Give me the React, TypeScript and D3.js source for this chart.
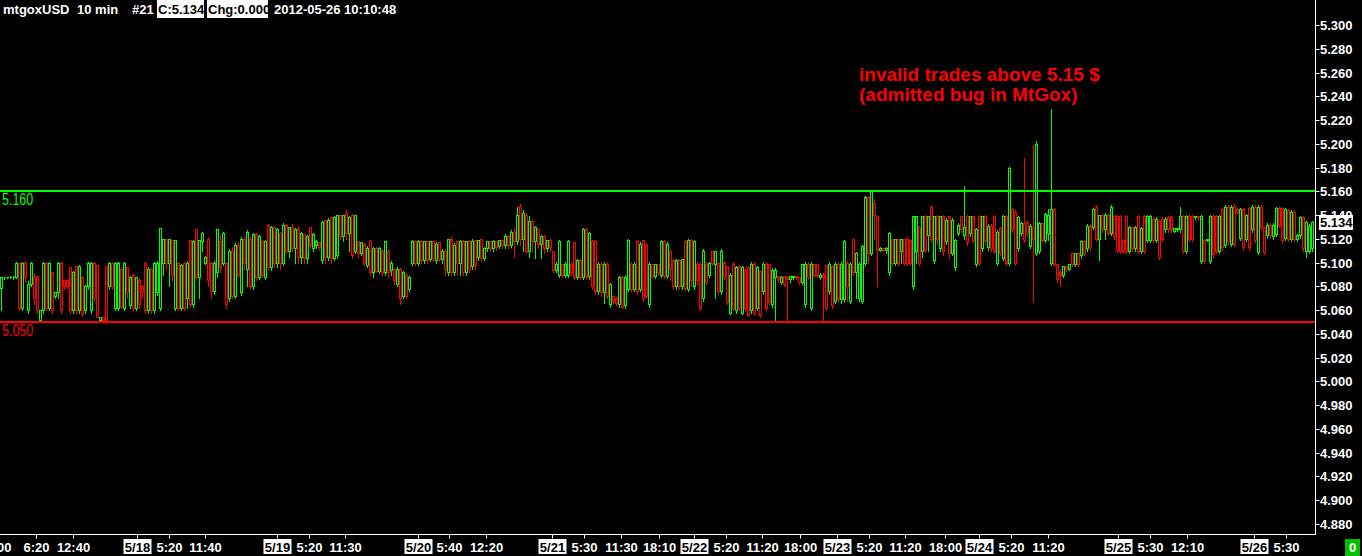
import React, { useEffect } from "react";
import * as d3 from "d3";

type Candle = [number, number, number, number]; // open, close, high, low in thousandths above 5.000

// 30-minute candles grouped by day (values = price offset above 5.000 in 1/1000 $)
const d0517: Candle[] = [
  [79,88,89,60],[88,88,89,86],[88,88,89,87],[88,88,90,87],[88,88,90,86],[88,100,101,87],[100,62,100,60],[62,100,101,60],
  [100,88,102,84],[60,82,85,58],[82,100,101,80],[88,70,92,65],[89,60,90,58],[52,60,61,52],[60,100,101,58],[100,62,100,60],
  [62,100,101,60],[92,60,93,58],[72,75,76,70],[75,100,101,70],[100,60,101,58],[85,80,86,78],[85,80,87,79],[96,60,97,58],
  [60,92,94,58],[97,60,98,58],[60,97,99,58],[88,57,90,55],[60,80,82,58],[80,100,101,78],[60,100,101,58],[100,70,101,68],
  [98,54,99,54],[52,54,55,52],[54,52,55,50],[97,52,98,50],[80,100,101,78],[100,80,101,78],[62,100,101,60],[62,100,101,60],
  [95,63,97,62],[62,100,101,60],[96,75,97,70],[64,88,90,62],[90,62,91,60],[62,88,89,60],
];
const d0518: Candle[] = [
  [85,65,88,62],[80,75,82,70],[100,60,101,58],[60,95,97,58],[95,60,96,58],[60,100,101,58],[75,100,102,73],[62,129,130,60],
  [100,120,121,90],[120,100,121,95],[100,120,121,80],[119,90,120,85],[62,119,120,60],[100,62,101,60],[62,98,100,60],[100,62,101,60],
  [70,100,102,62],[119,65,120,63],[65,118,120,63],[128,88,129,85],[88,119,120,70],[118,125,127,110],[100,105,106,99],[120,85,122,80],
  [100,76,101,70],[76,100,102,74],[92,128,129,88],[118,96,125,92],[100,125,127,98],[100,65,101,62],[70,110,112,68],[110,72,114,70],
  [72,115,117,70],[115,90,117,88],[75,120,122,73],[120,100,122,95],[95,126,128,80],[120,80,122,78],[80,124,126,78],[124,88,126,85],
  [88,122,124,86],[118,90,120,88],[88,118,120,86],[132,96,133,94],[96,130,132,94],[130,100,131,96],[100,128,130,96],
];
const d0519: Candle[] = [
  [125,100,127,95],[100,132,134,98],[132,110,133,108],[110,130,131,105],[130,112,133,110],[112,128,130,100],[128,105,132,100],[105,125,127,100],
  [124,104,125,100],[104,122,124,100],[130,115,131,112],[112,124,126,110],[115,118,120,112],[117,113,118,111],[102,134,136,100],[136,105,137,100],
  [105,136,138,102],[138,104,139,100],[104,138,140,102],[106,140,141,104],[140,122,141,120],[122,140,141,118],[142,125,145,120],[125,138,140,110],
  [140,106,142,104],[110,140,141,108],[118,108,119,105],[108,117,118,106],[116,100,117,98],[98,112,115,96],[118,92,120,90],[92,112,114,88],
  [112,93,114,92],[93,112,114,91],[110,92,112,90],[92,118,119,90],[110,92,112,88],[94,100,102,90],[95,85,96,82],[82,95,97,80],
  [95,70,96,65],[72,92,94,70],[90,72,92,70],[78,88,90,76],[100,118,120,98],[118,100,120,98],[100,118,120,98],
];
const d0520: Candle[] = [
  [118,102,120,100],[102,118,119,100],[118,102,119,100],[103,118,119,101],[118,104,119,101],[102,116,118,100],[117,103,118,101],[103,110,112,100],
  [110,95,112,90],[92,120,121,90],[120,92,122,90],[92,115,117,90],[118,100,119,90],[100,118,120,90],[118,92,120,90],[92,118,119,90],
  [118,95,120,92],[97,118,121,95],[119,98,120,95],[105,119,120,102],[120,104,121,102],[104,112,114,102],[112,118,119,110],[118,112,119,110],
  [112,118,120,110],[118,113,119,111],[114,119,120,112],[119,115,121,112],[115,122,125,112],[122,115,124,112],[115,126,128,113],[126,118,130,105],
  [118,140,148,116],[148,120,150,115],[120,142,145,110],[140,110,143,108],[110,135,140,105],[135,118,137,110],[118,130,132,104],[128,116,130,112],
  [116,122,124,104],[122,112,124,108],[112,119,120,110],[119,113,121,110],
];
const d0521: Candle[] = [
  [110,94,111,92],[94,99,101,92],[90,118,120,88],[99,90,100,88],[90,99,101,88],[90,118,120,88],[99,92,101,90],[117,88,118,86],
  [88,102,104,86],[102,88,104,86],[88,128,130,86],[128,89,130,86],[89,125,127,86],[118,80,120,78],[118,76,120,74],[76,99,101,74],
  [99,75,101,72],[75,99,101,66],[99,72,101,70],[65,82,84,63],[72,68,74,66],[70,66,72,64],[65,88,90,63],[88,63,90,62],
  [64,88,90,62],[78,119,121,76],[99,78,101,76],[78,99,101,76],[118,76,120,74],[78,116,118,76],[119,70,120,68],[115,72,117,70],
  [65,99,101,63],[99,89,100,87],[89,99,100,87],[99,92,100,90],[90,118,120,88],[118,89,120,87],[89,116,118,87],[110,95,112,85],
  [102,80,104,78],[80,102,104,78],[102,80,104,78],[80,103,104,78],[118,79,120,77],[78,119,121,76],[119,85,121,80],
];
const d0522: Candle[] = [
  [80,118,120,78],[99,85,101,82],[99,62,101,60],[70,110,112,68],[99,84,101,82],[90,100,101,88],[110,100,111,98],[99,110,111,70],
  [100,76,101,74],[76,110,112,74],[100,88,102,86],[97,67,98,65],[58,90,92,57],[99,62,101,60],[60,96,98,58],[97,62,99,60],
  [58,96,98,57],[94,62,96,60],[96,56,98,55],[60,99,101,58],[99,58,101,56],[62,96,98,60],[93,56,94,54],[76,99,101,74],
  [99,62,101,60],[99,67,100,65],[65,94,96,63],[88,94,96,50],[89,86,90,84],[84,88,90,82],[89,82,90,80],[88,86,90,52],
  [86,89,90,84],[88,89,90,86],[89,88,90,86],[88,84,89,82],[84,99,100,82],[65,99,101,63],[99,88,101,86],[62,99,101,60],
  [99,90,100,88],[99,90,100,88],[88,90,92,86],[90,88,92,51],[98,62,99,60],[76,99,101,74],[97,64,99,62],[68,99,101,66],
];
const d0523: Candle[] = [
  [99,69,101,67],[69,99,101,66],[69,118,120,67],[100,80,102,68],[68,99,101,66],[120,92,121,90],[92,108,110,70],[70,99,101,68],
  [68,114,116,66],[100,155,157,98],[155,108,157,100],[108,160,161,106],[150,140,154,120],[139,111,140,80],[111,112,114,110],[112,111,113,110],
  [111,112,114,108],[92,125,127,90],[120,100,121,98],[100,120,121,98],[120,100,121,98],[110,120,121,100],[120,100,121,98],[120,100,122,98],
  [119,100,121,98],[80,139,140,78],[110,139,140,100],[130,100,132,98],[110,139,140,105],[139,111,141,109],[123,139,140,110],[147,120,149,117],
  [102,139,140,100],[139,120,141,116],[112,139,140,110],[139,110,141,106],[118,136,138,116],[139,108,140,104],[108,136,138,106],[96,119,121,94],
  [125,132,134,123],[139,128,140,126],[123,130,165,120],[139,117,141,115],[125,139,140,122],[139,119,140,117],[99,128,130,97],
];
const d0524: Candle[] = [
  [139,100,141,98],[112,139,140,110],[139,118,141,116],[113,131,133,111],[131,112,133,110],[139,110,141,108],[100,126,128,98],[129,108,131,106],
  [104,139,141,102],[139,100,141,98],[100,180,181,98],[145,128,147,126],[143,100,145,98],[112,138,140,110],[125,133,135,123],[133,119,189,117],
  [134,125,136,123],[114,131,133,112],[130,120,200,67],[108,200,203,106],[110,133,135,108],[133,119,134,117],[119,141,143,117],[125,140,146,119],
  [100,145,230,98],[145,99,147,97],[99,86,100,84],[92,90,95,80],[90,97,98,88],[97,95,98,93],[95,99,100,94],[108,99,109,97],
  [99,108,109,97],[108,99,110,97],[106,118,120,104],[118,108,120,106],[112,131,133,110],[131,113,133,111],[130,145,147,128],[147,120,149,118],
  [120,140,141,102],[140,128,142,126],[128,140,143,120],[140,125,142,123],[125,147,149,123],[139,122,141,120],
];
const d0525: Candle[] = [
  [139,111,141,109],[139,110,141,108],[119,110,121,108],[139,110,141,108],[110,130,132,108],[130,112,131,110],[112,130,132,110],[139,110,141,108],
  [110,129,131,108],[139,110,141,108],[119,139,141,117],[119,139,141,117],[137,119,139,117],[119,137,139,117],[135,105,137,103],[137,120,139,118],
  [128,137,139,126],[138,128,140,126],[138,128,140,126],[127,129,130,126],[128,129,130,127],[128,139,148,126],[139,110,141,108],[110,139,141,108],
  [139,120,141,118],[139,120,141,118],[138,139,140,137],[139,138,140,136],[101,139,141,100],[119,102,121,100],[119,120,121,118],[101,139,141,100],
  [139,107,141,105],[139,110,141,108],[110,139,141,108],[145,113,147,111],[115,147,149,113],[147,118,149,116],[116,147,149,114],[148,116,150,114],
  [145,143,147,141],[121,145,147,119],[145,113,147,111],[120,140,142,118],[146,113,148,111],[128,147,149,126],
];
const d0526: Candle[] = [
  [147,119,149,117],[109,147,149,107],[147,130,149,128],[130,109,132,107],[123,132,134,121],[132,123,134,121],[122,132,134,120],[124,146,148,122],
  [146,132,148,130],[146,119,148,117],[121,145,147,119],[144,120,146,118],[120,143,145,118],[143,120,145,118],[120,123,125,118],[123,138,140,121],
  [138,112,140,110],[110,134,136,105],[110,131,133,108],[112,134,136,110],
];

// x-axis ticks: [10-minute bar index, label, isDate]
const xTicks: [number, string, boolean][] = [
  [-2, "0:00", false], [36, "6:20", false], [73, "12:40", false],
  [137, "5/18", true], [169, "5:20", false], [205, "11:40", false],
  [277, "5/19", true], [309, "5:20", false], [345, "11:30", false],
  [418, "5/20", true], [449, "5:40", false], [486, "12:20", false],
  [552, "5/21", true], [584, "5:30", false], [621, "11:30", false], [659, "18:10", false],
  [694, "5/22", true], [726, "5:20", false], [762, "11:20", false], [800, "18:00", false],
  [837, "5/23", true], [869, "5:20", false], [905, "11:20", false], [945, "18:00", false],
  [979, "5/24", true], [1011, "5:20", false], [1048, "11:20", false],
  [1118, "5/25", true], [1150, "5:30", false], [1187, "12:10", false],
  [1254, "5/26", true], [1286, "5:30", false],
];

const yTicks: number[] = [4.88, 4.90, 4.92, 4.94, 4.96, 4.98, 5.00, 5.02, 5.04, 5.06, 5.08, 5.10, 5.12, 5.14, 5.16, 5.18, 5.20, 5.22, 5.24, 5.26, 5.28, 5.30];

const levelValues: number[] = [5.160, 5.050];
const levelLabels: string[] = ["5.160", "5.050"];
const levelColors: string[] = ["#00ff00", "#ff0000"];

const lastPrice = 5.134;
const headerSymbol = "mtgoxUSD";
const headerInterval = "10 min";
const headerNum = "#21";
const headerClose = "C:5.134";
const headerChg = "Chg:0.000";
const headerTime = "2012-05-26 10:10:48";
const noteLines: string[] = ["invalid trades above 5.15 $", "(admitted bug in MtGox)"];

const W = 1362;
const H = 556;
const PLOT_R = 1315.5;
const AXIS_Y = 534.5;
const BARS_PER_CANDLE = 3;
const GREEN = "#00ff00";
const RED = "#ff0000";
const FONT = "'Liberation Sans', Arial, sans-serif";

export default function App() {
  useEffect(() => {
    document.body.style.margin = "0";
    document.body.style.background = "#000";
  }, []);

  const candles: Candle[] = [
    ...d0517, ...d0518, ...d0519, ...d0520, ...d0521, ...d0522, ...d0523, ...d0524, ...d0525, ...d0526,
  ];

  const x = d3.scaleLinear().domain([0, 1315]).range([0, 1315]);
  const y = d3.scaleLinear().domain([4.88, 5.30]).range([524, 25]);
  const py = (v: number) => Math.round(y(5 + v / 1000)) + 0.5;

  const marks = candles.map((c, i) => {
    const [o, cl, h, l] = c;
    const px = Math.floor(x(i * BARS_PER_CANDLE + 1.5));
    const col = cl >= o ? GREEN : RED;
    const yTop = py(Math.max(o, cl));
    const yBot = py(Math.min(o, cl));
    const yH = py(h);
    const yL = py(l);
    const x0 = px - 0.5;
    const x1 = px + 1.5;
    const xm = px + 0.5;
    let d = `M${x0},${yTop}H${x1}V${yBot}H${x0}Z`;
    if (yH < yTop) d += `M${xm},${yH}V${yTop}`;
    if (yL > yBot) d += `M${xm},${yBot}V${yL}`;
    return <path key={i} d={d} stroke={col} strokeWidth={1} fill="none" />;
  });

  return (
    <svg width={W} height={H} style={{ display: "block", background: "#000" }} fontFamily={FONT}>
      <rect x={0} y={0} width={W} height={H} fill="#000" />
      {/* candles */}
      <g shapeRendering="crispEdges">{marks}</g>

      {/* level lines */}
      {levelValues.map((v, i) => {
        const ly = Math.round(y(v));
        return (
          <g key={"lv" + i}>
            <line x1={0} x2={PLOT_R - 0.5} y1={ly} y2={ly} stroke={levelColors[i]} strokeWidth={2} />
            <text transform={`translate(2,${ly + 14}) scale(0.78,1)`} fill={levelColors[i]} fontSize={16}>{levelLabels[i]}</text>
          </g>
        );
      })}

      {/* annotation */}
      {noteLines.map((t, i) => (
        <text key={"n" + i} x={859} y={81 + i * 20} fill={RED} fontSize={19} fontWeight="bold">{t}</text>
      ))}

      {/* right axis */}
      <line x1={PLOT_R} x2={PLOT_R} y1={0} y2={AXIS_Y + 0.5} stroke="#fff" strokeWidth={1} />
      {yTicks.map((v, i) => {
        const yy = Math.round(y(v)) + 0.5;
        return (
          <g key={"yt" + i}>
            <line x1={PLOT_R} x2={PLOT_R + 4} y1={yy} y2={yy} stroke="#fff" strokeWidth={1} />
            <text x={1320} y={yy} dy="0.35em" fill="#fff" fontSize={13} fontWeight="bold">{v.toFixed(3)}</text>
          </g>
        );
      })}
      {/* last price marker */}
      <rect x={1319} y={Math.round(y(lastPrice)) - 7} width={34} height={15} fill="#fff" />
      <text x={1320} y={Math.round(y(lastPrice)) + 0.5} dy="0.35em" fill="#000" fontSize={13} fontWeight="bold">{lastPrice.toFixed(3)}</text>

      {/* bottom axis */}
      <line x1={0} x2={PLOT_R} y1={AXIS_Y} y2={AXIS_Y} stroke="#fff" strokeWidth={1} />
      {xTicks.map(([b, label, isDate], i) => {
        const xx = Math.round(x(b)) + 0.5;
        return (
          <g key={"xt" + i}>
            <line x1={xx} x2={xx} y1={AXIS_Y} y2={AXIS_Y + 4} stroke="#fff" strokeWidth={1} />
            {isDate && <rect x={xx - 14} y={539} width={28} height={15} fill="#fff" />}
            <text x={xx} y={551.5} textAnchor="middle" fill={isDate ? "#000" : "#fff"} fontSize={13} fontWeight="bold">{label}</text>
          </g>
        );
      })}
      <rect x={1345} y={539} width={15} height={17} fill="#00c000" />
      <text x={1352.5} y={552} textAnchor="middle" fill="#fff" fontSize={13} fontWeight="bold">0</text>

      {/* header */}
      <g fontSize={13} fontWeight="bold">
        <text x={3} y={14} fill="#fff">{headerSymbol}</text>
        <text x={77} y={14} fill="#fff">{headerInterval}</text>
        <text x={132} y={14} fill="#fff">{headerNum}</text>
        <rect x={157} y={0} width={47} height={18} fill="#fff" />
        <text x={158} y={14} fill="#000">{headerClose}</text>
        <clipPath id="chgclip"><rect x={207} y={0} width={61} height={18} /></clipPath>
        <rect x={207} y={0} width={61} height={18} fill="#fff" />
        <text x={208} y={14} fill="#000" clipPath="url(#chgclip)">{headerChg}</text>
        <text x={274} y={14} fill="#fff">{headerTime}</text>
      </g>
    </svg>
  );
}
